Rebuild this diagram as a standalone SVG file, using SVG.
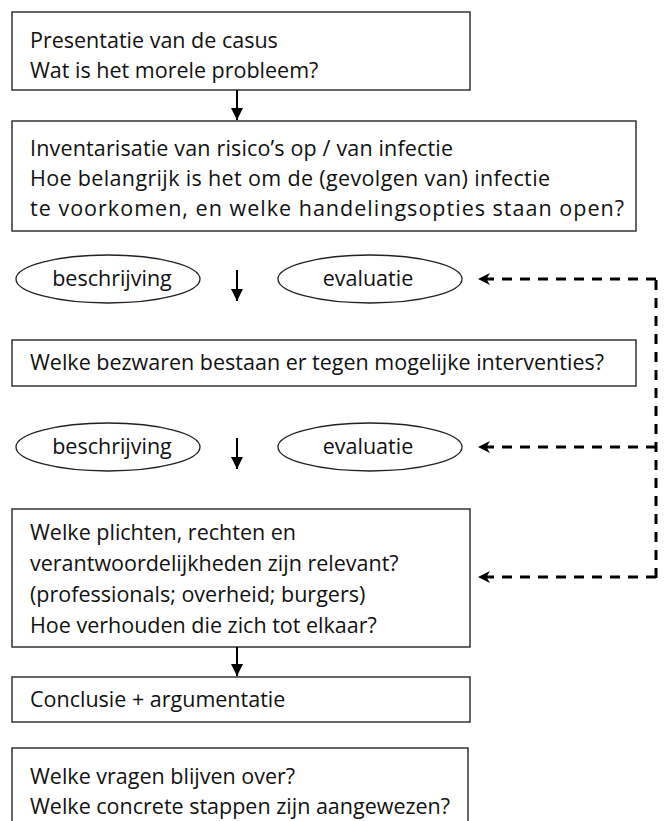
<svg xmlns="http://www.w3.org/2000/svg" width="665" height="821" viewBox="0 0 665 821">
<style>
.box{fill:#fff;stroke:#333;stroke-width:1.5}
.ell{fill:#fff;stroke:#222;stroke-width:1.3}
.t{font-family:"Open Sans","Noto Sans","Liberation Sans",sans-serif;font-size:21.5px;fill:#111}
.c{stroke:#000;stroke-width:2;fill:none}
.d{stroke:#000;stroke-width:3;fill:none;stroke-dasharray:10 8}
</style>
<defs>
<marker id="ah" viewBox="0 0 10 10" refX="10" refY="5" markerWidth="14" markerHeight="12" markerUnits="userSpaceOnUse" orient="auto">
<path d="M0,0 L10,5 L0,10 Z" fill="#000"/>
</marker>
<marker id="ahd" viewBox="0 0 10 10" refX="10" refY="5" markerWidth="16" markerHeight="12" markerUnits="userSpaceOnUse" orient="auto">
<path d="M0,0 L10,5 L0,10 L3,5 Z" fill="#000"/>
</marker>
</defs>
<g id="n1"><rect class="box" x="12" y="12" width="458" height="78"/>
<text class="t" x="30" y="48">Presentatie van de casus</text>
<text class="t" x="30" y="78">Wat is het morele probleem?</text></g>
<g id="n2"><rect class="box" x="12" y="121" width="624" height="110"/>
<text class="t" x="30" y="156" textLength="423" lengthAdjust="spacing">Inventarisatie van risico’s op / van infectie</text>
<text class="t" x="30" y="186" textLength="520" lengthAdjust="spacing">Hoe belangrijk is het om de (gevolgen van) infectie</text>
<text class="t" x="30" y="216" textLength="594" lengthAdjust="spacing">te voorkomen, en welke handelingsopties staan open?</text></g>
<g id="e1"><ellipse class="ell" cx="108" cy="279" rx="92" ry="24"/><text class="t" x="112" y="286" text-anchor="middle">beschrijving</text></g>
<g id="e2"><ellipse class="ell" cx="370" cy="279" rx="92" ry="24"/><text class="t" x="368" y="286" text-anchor="middle">evaluatie</text></g>
<g id="n3"><rect class="box" x="12" y="340" width="624" height="46"/>
<text class="t" x="30" y="370">Welke bezwaren bestaan er tegen mogelijke interventies?</text></g>
<g id="e3"><ellipse class="ell" cx="108" cy="447" rx="92" ry="24"/><text class="t" x="112" y="454" text-anchor="middle">beschrijving</text></g>
<g id="e4"><ellipse class="ell" cx="370" cy="447" rx="92" ry="24"/><text class="t" x="368" y="454" text-anchor="middle">evaluatie</text></g>
<g id="n4"><rect class="box" x="12" y="509" width="458" height="138"/>
<text class="t" x="30" y="540">Welke plichten, rechten en</text>
<text class="t" x="30" y="571">verantwoordelijkheden zijn relevant?</text>
<text class="t" x="30" y="602">(professionals; overheid; burgers)</text>
<text class="t" x="30" y="633">Hoe verhouden die zich tot elkaar?</text></g>
<g id="n5"><rect class="box" x="12" y="677" width="458" height="45"/>
<text class="t" x="30" y="707">Conclusie + argumentatie</text></g>
<g id="n6"><rect class="box" x="12" y="748" width="456" height="90"/>
<text class="t" x="30" y="784">Welke vragen blijven over?</text>
<text class="t" x="30" y="814">Welke concrete stappen zijn aangewezen?</text></g>
<g id="connectors">
<line class="c" x1="237" y1="90" x2="237" y2="120" marker-end="url(#ah)"/>
<line class="c" x1="237" y1="270" x2="237" y2="301" marker-end="url(#ah)"/>
<line class="c" x1="237" y1="438" x2="237" y2="469" marker-end="url(#ah)"/>
<line class="c" x1="237" y1="647" x2="237" y2="676" marker-end="url(#ah)"/>
<path class="d" d="M656,578 V277"/>
<line class="d" x1="656" y1="279" x2="478" y2="279" marker-end="url(#ahd)"/>
<line class="d" x1="656" y1="447" x2="478" y2="447" marker-end="url(#ahd)"/>
<line class="d" x1="656" y1="577" x2="478" y2="577" marker-end="url(#ahd)"/>
</g>
</svg>
